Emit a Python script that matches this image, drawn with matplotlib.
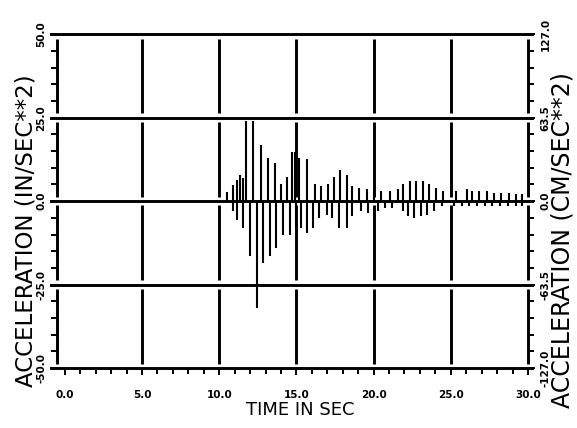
import matplotlib.pyplot as plt
from matplotlib.ticker import MultipleLocator

# =========================
# DATA (peaks, in/sec**2)
# =========================
t_pos = [10.52, 10.87, 11.18, 11.34, 11.53, 11.72, 12.19, 12.71, 13.18, 13.61,
         14.00, 14.36, 14.72, 14.88, 15.19, 15.66, 16.20, 16.60, 17.03, 17.43,
         17.85, 18.25, 18.60, 19.08, 19.55, 20.02, 20.50, 21.08, 21.56, 21.90,
         22.33, 22.73, 23.20, 23.56, 24.03, 24.50, 25.33, 26.04, 26.40, 26.86,
         27.33, 27.80, 28.28, 28.75, 29.20, 29.60]
a_pos = [2.6, 4.7, 6.3, 7.8, 6.8, 24.0, 24.0, 16.7, 13.0, 11.5,
         5.2, 7.3, 14.6, 14.6, 13.0, 12.5, 5.0, 4.5, 5.0, 7.3,
         9.4, 7.8, 4.5, 4.0, 3.6, 3.0, 3.0, 3.0, 3.6, 5.0,
         6.0, 6.0, 6.0, 5.0, 4.0, 3.0, 3.0, 3.5, 3.0, 3.0,
         3.0, 2.5, 2.5, 2.5, 2.0, 2.0]

t_neg = [10.87, 11.18, 11.53, 12.00, 12.43, 12.83, 13.30, 13.70, 14.13, 14.60,
         14.95, 15.30, 15.66, 16.06, 16.49, 16.96, 17.31, 17.78, 18.25, 18.60,
         19.20, 19.67, 20.26, 20.73, 21.20, 21.90, 22.26, 22.60, 23.10, 23.44,
         23.90, 24.40, 25.20, 25.70, 26.20, 26.70, 27.20, 27.70, 28.20, 28.70,
         29.20, 29.60]
a_neg = [-3.0, -5.5, -8.0, -16.5, -32.0, -18.5, -16.5, -14.0, -10.0, -10.0,
         -8.0, -8.0, -9.5, -8.0, -5.0, -4.0, -5.0, -8.0, -8.0, -4.5,
         -3.0, -3.5, -3.0, -2.0, -2.0, -3.0, -4.5, -5.0, -4.5, -4.0,
         -3.0, -1.5, -1.5, -1.5, -1.5, -1.5, -1.5, -1.5, -1.5, -1.5,
         -1.5, -1.5]

x_ticks = [0, 5, 10, 15, 20, 25, 30]
x_ticklabels = ['0.0', '5.0', '10.0', '15.0', '20.0', '25.0', '30.0']
y_ticks = [-50, -25, 0, 25, 50]
y_ticklabels = ['-50.0', '-25.0', '0.0', '25.0', '50.0']
cm_ticks = [-127, -63.5, 0, 63.5, 127]
cm_ticklabels = ['-127.0', '-63.5', '0.0', '63.5', '127.0']

# =========================
# FIGURE
# =========================
fig = plt.figure(figsize=(5.77, 4.28), dpi=100)
ax = fig.add_axes([0.099, 0.140, 0.816, 0.780])
x0, x1 = -0.5, 30
ax.set_xlim(x0, x1)
ax.set_ylim(-50, 50)

# horizontal grid lines (run slightly past the frame)
for y in y_ticks:
    ax.axhline(y, xmin=-0.012, xmax=1.008, color='black', lw=2.1, clip_on=False)

# vertical lines, broken where they meet the horizontals
gap = 1.3
for lo, hi in zip(y_ticks[:-1], y_ticks[1:]):
    ax.vlines([x0, 5, 10, 15, 20, 25, x1], lo + gap, hi - gap,
              color='black', lw=2.1, clip_on=False)

# acceleration spikes
ax.vlines(t_pos, 0, a_pos, color='black', lw=1.5)
ax.vlines(t_neg, a_neg, 0, color='black', lw=1.5)

for s in ax.spines.values():
    s.set_visible(False)

tick_font = dict(fontsize=7.5, fontweight='bold')
ax.set_xticks(x_ticks, x_ticklabels, **tick_font)
ax.xaxis.set_minor_locator(MultipleLocator(1))
ax.tick_params(axis='x', which='both', direction='out', width=1.4, pad=11)
ax.tick_params(axis='x', which='major', length=5)
ax.tick_params(axis='x', which='minor', length=4)

ax.set_yticks(y_ticks, y_ticklabels, rotation=90, va='center', **tick_font)
ax.yaxis.set_minor_locator(MultipleLocator(5))
ax.tick_params(axis='y', which='both', direction='out', width=1.4, pad=3)
ax.tick_params(axis='y', which='major', length=5)
ax.tick_params(axis='y', which='minor', length=4)

ax2 = ax.twinx()
ax2.set_ylim(-127, 127)
for s in ax2.spines.values():
    s.set_visible(False)
ax2.set_yticks(cm_ticks, cm_ticklabels, rotation=90, va='center', **tick_font)
ax2.yaxis.set_minor_locator(MultipleLocator(12.7))
ax2.tick_params(axis='y', which='both', direction='out', width=1.4, pad=4)
ax2.tick_params(axis='y', which='major', length=5)
ax2.tick_params(axis='y', which='minor', length=4)

# axis titles
fig.text(0.045, 0.46, 'ACCELERATION (IN/SEC**2)', rotation=90,
         ha='center', va='center', fontsize=16.5)
fig.text(0.975, 0.44, 'ACCELERATION (CM/SEC**2)', rotation=90,
         ha='center', va='center', fontsize=17)
fig.text(0.52, 0.042, 'TIME IN SEC', ha='center', va='center', fontsize=13)

fig.savefig('out.png', dpi=100)
